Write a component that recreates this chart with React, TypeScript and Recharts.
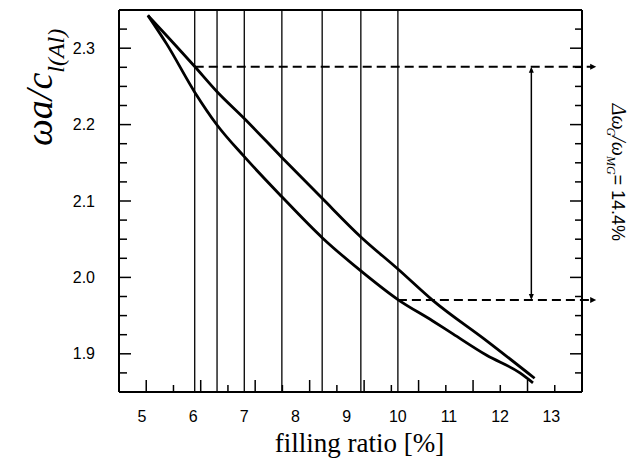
import React from 'react'
import { LineChart, Line, XAxis, YAxis, ReferenceLine } from 'recharts'

// upper / lower band edge vs filling ratio
const upperEdge = [
  { x: 5.03, y: 2.343 },
  { x: 5.38, y: 2.316 },
  { x: 5.89, y: 2.276 },
  { x: 6.3, y: 2.243 },
  { x: 6.8, y: 2.208 },
  { x: 7.49, y: 2.157 },
  { x: 8.23, y: 2.1035 },
  { x: 8.94, y: 2.053 },
  { x: 9.62, y: 2.011 },
  { x: 10.26, y: 1.97 },
  { x: 11.25, y: 1.917 },
  { x: 12.13, y: 1.868 }
]

const lowerEdge = [
  { x: 5.03, y: 2.343 },
  { x: 5.38, y: 2.305 },
  { x: 5.89, y: 2.2425 },
  { x: 6.3, y: 2.1995 },
  { x: 6.8, y: 2.158 },
  { x: 7.49, y: 2.1055 },
  { x: 8.23, y: 2.052 },
  { x: 8.94, y: 2.0085 },
  { x: 9.62, y: 1.971 },
  { x: 10.26, y: 1.943 },
  { x: 10.63, y: 1.926 },
  { x: 11.25, y: 1.898 },
  { x: 11.86, y: 1.875 },
  { x: 12.1, y: 1.862 }
]

const cutLines = [5.89, 6.3, 6.8, 7.49, 8.23, 8.94, 9.62]
const gapTop = { x: 5.89, y: 2.2758 }
const gapBottom = { x: 9.62, y: 1.9704 }
const arrowX = 12.07
const dashEndX = 13.26

const xDomain = [4.5, 13]
const yDomain = [1.85, 2.35]
const xTicks = [4.5, 5, 5.5, 6, 6.5, 7, 7.5, 8, 8.5, 9, 9.5, 10, 10.5, 11, 11.5, 12, 12.5, 13]
const yTicks = [
  1.85, 1.875, 1.9, 1.925, 1.95, 1.975, 2.0, 2.025, 2.05, 2.075, 2.1,
  2.125, 2.15, 2.175, 2.2, 2.225, 2.25, 2.275, 2.3, 2.325, 2.35
]

const SANS = "'Liberation Sans', Arial, sans-serif"
const SERIF = "'Liberation Serif', 'Times New Roman', serif"

const isMajorY = (v: number) => Math.abs(v * 10 - Math.round(v * 10)) < 1e-6

const BottomTick = ({ x, y, payload }: any) => {
  const v = payload.value
  const major = Number.isInteger(v)
  return (
    <g>
      <line x1={x} y1={y} x2={x} y2={y - (major ? 12 : 7)} stroke="#000" strokeWidth={1.5} />
      {major && (
        <text x={x - 4.3 - 3.3 * (v - 5)} y={y + 30} textAnchor="middle" fontFamily={SANS} fontSize={16} fill="#000">
          {v}
        </text>
      )}
    </g>
  )
}

const TopTick = ({ x, y, payload }: any) => {
  const major = Number.isInteger(payload.value)
  return <line x1={x} y1={y} x2={x} y2={y + (major ? 12 : 7)} stroke="#000" strokeWidth={1.5} />
}

const LeftTick = ({ x, y, payload }: any) => {
  const v = payload.value
  const major = isMajorY(v)
  const labelled = major && v > 1.86 && v < 2.34
  return (
    <g>
      <line x1={x} y1={y} x2={x + (major ? 12 : 8)} y2={y} stroke="#000" strokeWidth={1.5} />
      {labelled && (
        <text x={x - 24} y={y} dy="0.35em" textAnchor="end" fontFamily={SANS} fontSize={16} fill="#000">
          {v.toFixed(1)}
        </text>
      )}
    </g>
  )
}

const RightTick = ({ x, y, payload }: any) => {
  const major = isMajorY(payload.value)
  return <line x1={x} y1={y} x2={x - (major ? 12 : 7)} y2={y} stroke="#000" strokeWidth={1.5} />
}

const YTitle = ({ viewBox }: any) => {
  const bx = viewBox.x - 7
  const by = viewBox.y + 136
  return (
    <text
      x={bx}
      y={by}
      transform={`rotate(-90 ${bx} ${by})`}
      fontFamily={SERIF}
      fontStyle="italic"
      fontSize={38}
      fill="#000"
    >
      ωa/c
      <tspan fontSize={24} dy={12}>l(Al)</tspan>
    </text>
  )
}

const XTitle = ({ viewBox }: any) => (
  <text
    x={viewBox.x + viewBox.width / 2 + 9}
    y={444}
    textAnchor="middle"
    fontFamily={SERIF}
    fontSize={27}
    fill="#000"
  >
    filling ratio [%]
  </text>
)

// dashed level line running out past the frame, small arrow at the end
const DashedArrow = (props: any) => {
  const { x1, y1, x2 } = props
  return (
    <g>
      <line x1={x1} y1={y1} x2={x2 - 5} y2={y1} stroke="#000" strokeWidth={2} strokeDasharray="9 5" />
      <polygon points={`${x2},${y1} ${x2 - 6},${y1 - 3} ${x2 - 6},${y1 + 3}`} fill="#000" />
    </g>
  )
}

// double arrow between the two levels plus the gap label
const GapArrow = (props: any) => {
  const { x1, y1, y2 } = props
  const top = Math.min(y1, y2)
  const bottom = Math.max(y1, y2)
  const tx = x1 + 81
  const ty = top + 37
  return (
    <g>
      <line x1={x1} y1={top + 2} x2={x1} y2={bottom - 2} stroke="#000" strokeWidth={1.5} />
      <polygon points={`${x1},${top} ${x1 - 2.5},${top + 6} ${x1 + 2.5},${top + 6}`} fill="#000" />
      <polygon points={`${x1},${bottom} ${x1 - 2.5},${bottom - 6} ${x1 + 2.5},${bottom - 6}`} fill="#000" />
      <text x={tx} y={ty} transform={`rotate(90 ${tx} ${ty})`} fill="#000">
        <tspan fontFamily={SERIF} fontStyle="italic" fontSize={20}>Δω</tspan>
        <tspan fontFamily={SERIF} fontStyle="italic" fontSize={12} dx={-2} dy={5}>G</tspan>
        <tspan fontFamily={SERIF} fontStyle="italic" fontSize={20} dy={-5}>/ω</tspan>
        <tspan fontFamily={SERIF} fontStyle="italic" fontSize={12} dy={5}>MG</tspan>
        <tspan fontFamily={SANS} fontSize={18} dy={-5}>= 14.4%</tspan>
      </text>
    </g>
  )
}

const frameLine = { stroke: '#000', strokeWidth: 2 }

export default function App() {
  return (
    <div style={{ width: 633, height: 453, background: '#fff' }}>
      <LineChart width={633} height={453} margin={{ top: 1, right: 58, bottom: 9, left: 51 }}>
        <XAxis
          dataKey="x"
          type="number"
          domain={xDomain}
          ticks={xTicks}
          interval={0}
          height={60}
          tickSize={0}
          tickMargin={0}
          tickLine={false}
          tick={<BottomTick />}
          axisLine={frameLine}
          allowDataOverflow
          label={{ content: (p: any) => <XTitle {...p} /> }}
        />
        <XAxis
          xAxisId="top"
          orientation="top"
          type="number"
          domain={xDomain}
          ticks={xTicks}
          interval={0}
          height={1}
          tickSize={0}
          tickMargin={0}
          tickLine={false}
          tick={<TopTick />}
          axisLine={frameLine}
          allowDataOverflow
        />
        <YAxis
          type="number"
          domain={yDomain}
          ticks={yTicks}
          interval={0}
          width={60}
          tickSize={0}
          tickMargin={0}
          tickLine={false}
          tick={<LeftTick />}
          axisLine={frameLine}
          allowDataOverflow
          label={{ content: (p: any) => <YTitle {...p} /> }}
        />
        <YAxis
          yAxisId="right"
          orientation="right"
          type="number"
          domain={yDomain}
          ticks={yTicks}
          interval={0}
          width={1}
          tickSize={0}
          tickMargin={0}
          tickLine={false}
          tick={<RightTick />}
          axisLine={frameLine}
          allowDataOverflow
        />

        {cutLines.map(v => (
          <ReferenceLine key={v} x={v} stroke="#000" strokeWidth={1.3} />
        ))}

        <ReferenceLine
          segment={[gapTop, { x: dashEndX, y: gapTop.y }]}
          ifOverflow="visible"
          shape={(p: any) => <DashedArrow {...p} />}
        />
        <ReferenceLine
          segment={[gapBottom, { x: dashEndX, y: gapBottom.y }]}
          ifOverflow="visible"
          shape={(p: any) => <DashedArrow {...p} />}
        />
        <ReferenceLine
          segment={[{ x: arrowX, y: gapTop.y }, { x: arrowX, y: gapBottom.y }]}
          ifOverflow="visible"
          shape={(p: any) => <GapArrow {...p} />}
        />

        <Line
          data={upperEdge}
          dataKey="y"
          type="monotone"
          stroke="#000"
          strokeWidth={2.8}
          dot={false}
          isAnimationActive={false}
        />
        <Line
          data={lowerEdge}
          dataKey="y"
          type="monotone"
          stroke="#000"
          strokeWidth={2.8}
          dot={false}
          isAnimationActive={false}
        />
      </LineChart>
    </div>
  )
}
